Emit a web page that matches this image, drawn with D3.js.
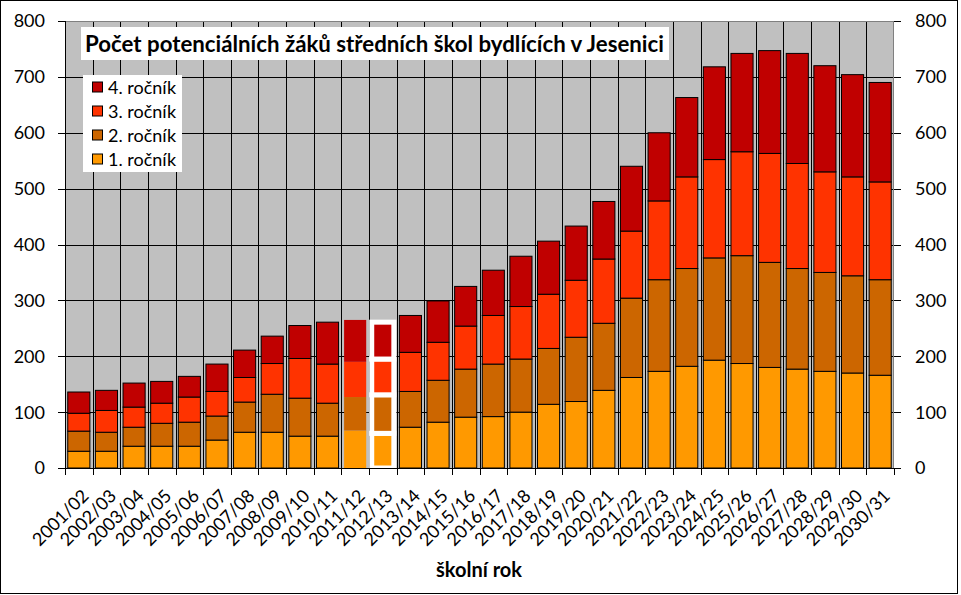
<!DOCTYPE html>
<html>
<head>
<meta charset="utf-8">
<script src="https://cdn.jsdelivr.net/npm/d3@7"></script>
<style>
  html, body { margin: 0; padding: 0; background: #fff; }
  svg { display: block; }
  text { font-family: Lato, "Open Sans", "DejaVu Sans", sans-serif; fill: #000; }
</style>
</head>
<body>
<svg id="chart" width="961" height="595"></svg>
<script>
const categories = ["2001/02","2002/03","2003/04","2004/05","2005/06","2006/07","2007/08","2008/09","2009/10","2010/11",
  "2011/12","2012/13","2013/14","2014/15","2015/16","2016/17","2017/18","2018/19","2019/20","2020/21",
  "2021/22","2022/23","2023/24","2024/25","2025/26","2026/27","2027/28","2028/29","2029/30","2030/31"];
const rocnik1 = [30,30,39,39,39,50,64,64,57,57,67,62,73,82,91,92,100,114,119,139,162,173,182,193,187,180,177,173,170,166];
const rocnik2 = [36,34,34,41,43,43,54,68,68,59,60,69,64,75,86,94,95,100,115,120,142,164,175,183,193,188,180,177,174,171];
const rocnik3 = [32,39,36,36,45,44,44,55,71,70,63,64,70,68,77,87,94,97,102,115,120,141,164,176,186,195,188,180,177,175];
const rocnik4 = [38,36,43,39,37,49,49,49,59,75,75,66,66,74,71,81,90,95,97,103,116,122,142,166,176,184,197,190,183,178];
const seriesNames = ["1. ročník","2. ročník","3. ročník","4. ročník"];
const seriesColors = ["#FF9900","#CC6600","#FF3300","#C00000"];
const yTicks = [0,100,200,300,400,500,600,700,800];
const titleText = "Počet potenciálních žáků středních škol bydlících v Jesenici";
const xTitle = "školní rok";
const noOutlineYear = "2011/12";
const highlightYear = "2012/13";

const svg = d3.select("#chart");
const L = 65, R = 894, T = 21, B = 468;

const table = categories.map((c, i) => ({cat: c, s0: rocnik1[i], s1: rocnik2[i], s2: rocnik3[i], s3: rocnik4[i]}));
const keys = ["s0","s1","s2","s3"];
const stacked = d3.stack().keys(keys)(table);

const x = d3.scaleBand().domain(categories).range([L, R]).paddingInner(0.2).paddingOuter(0.1);
const y = d3.scaleLinear().domain([0, 800]).range([B, T]);
const step = x.step();
const boundary = i => L + i * step;

const defs = svg.append("defs");
defs.append("clipPath").attr("id", "plotClip").append("rect")
  .attr("x", L).attr("y", T - 5).attr("width", R - L).attr("height", B - T + 5);

// plot background
svg.append("rect").attr("x", L).attr("y", T).attr("width", R - L).attr("height", B - T).attr("fill", "#C0C0C0");

// horizontal gridlines
svg.append("g").selectAll("line").data(yTicks.filter(v => v > 0 && v < 800)).join("line")
  .attr("x1", L).attr("x2", R)
  .attr("y1", d => Math.round(y(d)) + 0.5).attr("y2", d => Math.round(y(d)) + 0.5)
  .attr("stroke", "#000").attr("stroke-width", 1);

// vertical gridlines at category boundaries
svg.append("g").selectAll("line").data(d3.range(1, categories.length)).join("line")
  .attr("x1", d => Math.round(boundary(d)) + 0.5).attr("x2", d => Math.round(boundary(d)) + 0.5)
  .attr("y1", T).attr("y2", B)
  .attr("stroke", "#000").attr("stroke-width", 1);

// plot border (grey)
svg.append("rect").attr("x", L + 0.5).attr("y", T + 0.5).attr("width", R - L - 1).attr("height", B - T)
  .attr("fill", "none").attr("stroke", "#808080").attr("stroke-width", 1);

// bars
const gBars = svg.append("g").attr("clip-path", "url(#plotClip)");
stacked.forEach((layer, li) => {
  gBars.append("g").selectAll("rect").data(layer).join("rect")
    .attr("x", d => x(d.data.cat))
    .attr("width", x.bandwidth())
    .attr("y", d => y(d[1]))
    .attr("height", d => y(d[0]) - y(d[1]))
    .attr("fill", seriesColors[li])
    .attr("stroke", d => d.data.cat === highlightYear ? "#fff" : (d.data.cat === noOutlineYear ? "none" : "#000"))
    .attr("stroke-width", d => d.data.cat === highlightYear ? 5 : 1);
});

// axes
const gAxes = svg.append("g");
gAxes.append("line").attr("x1", L).attr("x2", R + 1).attr("y1", B + 0.5).attr("y2", B + 0.5).attr("stroke", "#000");
gAxes.append("line").attr("x1", L + 0.5).attr("x2", L + 0.5).attr("y1", T).attr("y2", B).attr("stroke", "#000");
gAxes.append("g").selectAll("line").data(d3.range(0, categories.length + 1)).join("line")
  .attr("x1", d => Math.round(boundary(d)) + 0.5).attr("x2", d => Math.round(boundary(d)) + 0.5)
  .attr("y1", B).attr("y2", B + 7).attr("stroke", "#000");
gAxes.append("g").selectAll("line").data(yTicks).join("line")
  .attr("x1", L - 7).attr("x2", L).attr("y1", d => Math.round(y(d)) + 0.5).attr("y2", d => Math.round(y(d)) + 0.5)
  .attr("stroke", "#000");
gAxes.append("g").selectAll("text").data(yTicks).join("text")
  .attr("x", 45).attr("y", d => y(d)).attr("dy", "0.36em").attr("text-anchor", "end")
  .style("font-size", "18px").text(d => d);
gAxes.append("g").selectAll("line").data(yTicks).join("line")
  .attr("x1", R).attr("x2", R + 7).attr("y1", d => Math.round(y(d)) + 0.5).attr("y2", d => Math.round(y(d)) + 0.5)
  .attr("stroke", "#000");
gAxes.append("g").selectAll("text").data(yTicks).join("text")
  .attr("x", 915).attr("y", d => y(d)).attr("dy", "0.36em").attr("text-anchor", "start")
  .style("font-size", "18px").text(d => d);

// x labels rotated
gAxes.append("g").selectAll("text").data(categories).join("text")
  .attr("transform", d => `translate(${x(d) + x.bandwidth() / 2 + 11},${497}) rotate(-45)`)
  .attr("text-anchor", "end")
  .style("font-size", "18px").text(d => d);

// x axis title
svg.append("text").attr("x", 479).attr("y", 577).attr("text-anchor", "middle")
  .style("font-size", "20px").style("font-weight", "bold").text(xTitle);

// title box
svg.append("rect").attr("x", 81).attr("y", 27).attr("width", 588).attr("height", 33).attr("fill", "#fff");
const tt = svg.append("text").attr("x", 85).attr("y", 52)
  .style("font-size", "22px").style("font-weight", "bold").text(titleText);
(function fit(sel, target) {
  const w = sel.node().getComputedTextLength();
  const fs = parseFloat(sel.style("font-size"));
  sel.style("font-size", (fs * target / w).toFixed(2) + "px");
})(tt, 579);

// legend
const lg = svg.append("g");
lg.append("rect").attr("x", 83).attr("y", 75).attr("width", 99).attr("height", 97).attr("fill", "#fff");
const legendOrder = [3, 2, 1, 0];
legendOrder.forEach((si, i) => {
  const cy = 87.5 + i * 24;
  lg.append("rect").attr("x", 92.5).attr("y", cy - 5.5).attr("width", 10).attr("height", 10)
    .attr("fill", seriesColors[si]).attr("stroke", "#000").attr("stroke-width", 1);
  lg.append("text").attr("x", 108).attr("y", cy).attr("dy", "0.36em")
    .style("font-size", "18px").text(seriesNames[si]);
});

// outer border
svg.append("rect").attr("x", 0.5).attr("y", 0.5).attr("width", 957).attr("height", 593)
  .attr("fill", "none").attr("stroke", "#000").attr("stroke-width", 1);
</script>
</body>
</html>
